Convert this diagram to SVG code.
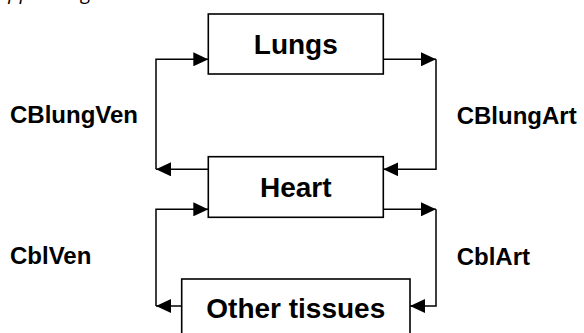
<svg xmlns="http://www.w3.org/2000/svg" width="584" height="333" viewBox="0 0 584 333">
  <style>
    .box { fill: #ffffff; stroke: #000000; stroke-width: 1.6; }
    .node-text { font-family: "Liberation Sans", Arial, sans-serif; font-weight: bold; font-size: 28px; fill: #000000; text-anchor: middle; }
    .label { font-family: "Liberation Sans", Arial, sans-serif; font-weight: bold; font-size: 24px; fill: #000000; }
    .conn { fill: none; stroke: #000000; stroke-width: 1.5; marker-end: url(#arrow); }
    .caption { font-family: "Open Sans", "DejaVu Sans", sans-serif; font-style: italic; font-size: 20px; fill: #000000; }
  </style>
  <defs>
    <marker id="arrow" markerUnits="userSpaceOnUse" markerWidth="15" markerHeight="14" refX="15" refY="7" orient="auto">
      <path d="M0,0 L15,7 L0,14 z" fill="#000000"/>
    </marker>
  </defs>
  <rect width="584" height="333" fill="#ffffff"/>
  <text class="caption" x="-3" y="-1.5">Appending</text>

  <g id="connectors">
    <path class="conn" d="M208.3,169.3 H156"/>
    <path class="conn" d="M156,169.3 V59.3 H208.3"/>
    <path class="conn" d="M383.3,59.3 H436"/>
    <path class="conn" d="M436,59.3 V169.3 H383.3"/>
    <path class="conn" d="M383.3,209.3 H436"/>
    <path class="conn" d="M436,209.3 V306 H410"/>
    <path class="conn" d="M181.7,306 H156"/>
    <path class="conn" d="M156,306 V209.3 H208.3"/>
  </g>

  <g id="lungs">
    <rect class="box" x="208.3" y="14" width="175" height="60"/>
    <text class="node-text" x="295.8" y="54.3">Lungs</text>
  </g>
  <g id="heart">
    <rect class="box" x="208.3" y="156.7" width="175" height="60.6"/>
    <text class="node-text" x="295.8" y="197.3">Heart</text>
  </g>
  <g id="other-tissues">
    <rect class="box" x="181.7" y="279" width="228.3" height="70"/>
    <text class="node-text" x="295.8" y="318.3">Other tissues</text>
  </g>

  <g id="labels">
    <text class="label" x="10" y="123.3">CBlungVen</text>
    <text class="label" x="456.7" y="124.3">CBlungArt</text>
    <text class="label" x="10" y="264.3">CblVen</text>
    <text class="label" x="456.7" y="265">CblArt</text>
  </g>
</svg>
